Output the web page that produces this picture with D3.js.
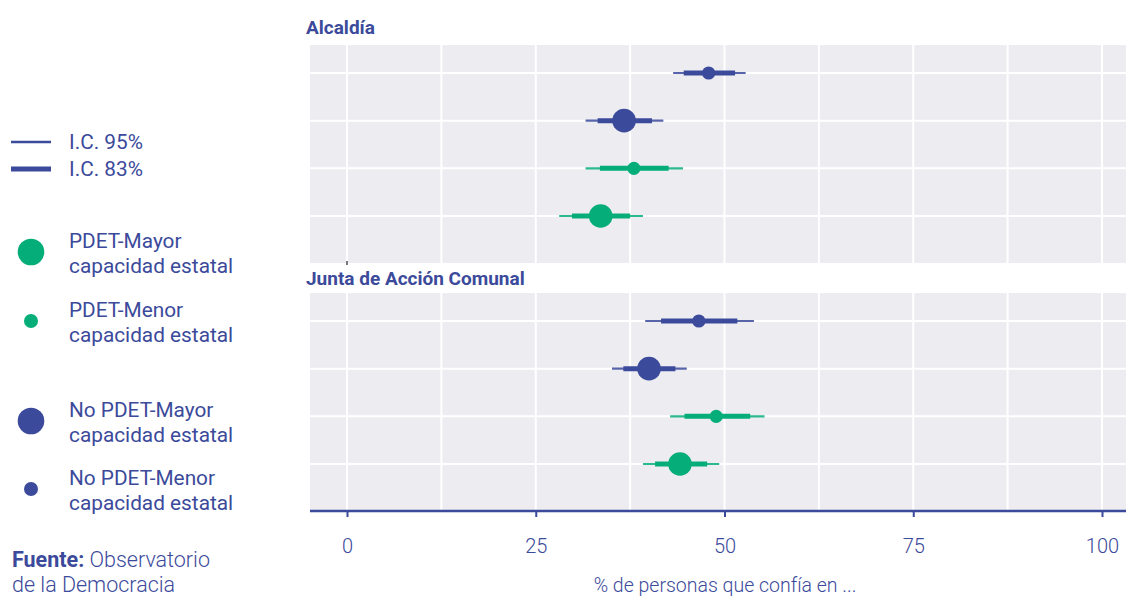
<!DOCTYPE html>
<html>
<head>
<meta charset="utf-8">
<script src="https://cdn.jsdelivr.net/npm/d3@7"></script>
<style>
  body { margin: 0; background: #fff; }
  svg { display: block; font-family: Roboto, "Noto Sans", sans-serif; }
</style>
</head>
<body>
<svg id="chart" width="1126" height="598"></svg>
<script>
// data (rows top to bottom in each panel)
var panels = ["Alcaldía", "Junta de Acción Comunal"];
var groups = ["No PDET-Menor", "No PDET-Mayor", "PDET-Menor", "PDET-Mayor"];
var est_alcaldia = [47.9, 36.7, 38.0, 33.6];
var lo95_alcaldia = [43.2, 31.6, 31.6, 28.1];
var hi95_alcaldia = [52.8, 41.9, 44.5, 39.2];
var lo83_alcaldia = [44.6, 33.2, 33.5, 29.8];
var hi83_alcaldia = [51.4, 40.4, 42.6, 37.5];
var est_jac = [46.6, 40.0, 48.9, 44.1];
var lo95_jac = [39.5, 35.1, 42.8, 39.2];
var hi95_jac = [53.9, 45.0, 55.3, 49.3];
var lo83_jac = [41.6, 36.6, 44.7, 40.8];
var hi83_jac = [51.7, 43.5, 53.4, 47.7];
var xTicks = [0, 25, 50, 75, 100];

var blue = "#3b4a9b", green = "#05ae78", panelBg = "#edecf1";

function rows(est, lo95, hi95, lo83, hi83) {
    return groups.map(function(g, i) {
        return {group: g, est: est[i], lo95: lo95[i], hi95: hi95[i], lo83: lo83[i], hi83: hi83[i]};
    });
}
var data = [rows(est_alcaldia, lo95_alcaldia, hi95_alcaldia, lo83_alcaldia, hi83_alcaldia),
            rows(est_jac, lo95_jac, hi95_jac, lo83_jac, hi83_jac)];

var svg = d3.select("#chart");
var x = d3.scaleLinear().domain([0, 100]).range([347, 1102]);
var panelLeft = 310, panelRight = 1126;
var panelTops = [45, 293], panelH = 218;
var titleY = [34, 285];
var y = d3.scalePoint().domain(groups).range([28, 171]);
var color = function(g) { return g.indexOf("No") === 0 ? blue : green; };
var radius = function(g) { return g.indexOf("Mayor") >= 0 ? 11.8 : 6.6; };

panels.forEach(function(name, p) {
    var g = svg.append("g").attr("transform", "translate(0," + panelTops[p] + ")");
    g.append("rect").attr("x", panelLeft).attr("y", 0)
        .attr("width", panelRight - panelLeft).attr("height", panelH)
        .attr("fill", panelBg);
    // minor + major grid
    var grid = d3.range(0, 101, 12.5);
    g.selectAll(".vgrid").data(grid).enter().append("line")
        .attr("x1", function(d) { return x(d); }).attr("x2", function(d) { return x(d); })
        .attr("y1", 0).attr("y2", panelH)
        .attr("stroke", "#fff").attr("stroke-width", 2);
    g.selectAll(".hgrid").data(groups).enter().append("line")
        .attr("x1", panelLeft).attr("x2", panelRight)
        .attr("y1", function(d) { return y(d); }).attr("y2", function(d) { return y(d); })
        .attr("stroke", "#fff").attr("stroke-width", 2);

    svg.append("text").attr("x", 306).attr("y", titleY[p])
        .attr("fill", blue).attr("font-weight", 700).attr("font-size", 19)
        .text(name);

    var d = data[p];
    g.selectAll(".ci95").data(d).enter().append("line")
        .attr("x1", function(r) { return x(r.lo95); }).attr("x2", function(r) { return x(r.hi95); })
        .attr("y1", function(r) { return y(r.group); }).attr("y2", function(r) { return y(r.group); })
        .attr("stroke", function(r) { return color(r.group); })
        .attr("stroke-opacity", 0.85).attr("stroke-width", 2.2);
    g.selectAll(".ci83").data(d).enter().append("line")
        .attr("x1", function(r) { return x(r.lo83); }).attr("x2", function(r) { return x(r.hi83); })
        .attr("y1", function(r) { return y(r.group); }).attr("y2", function(r) { return y(r.group); })
        .attr("stroke", function(r) { return color(r.group); })
        .attr("stroke-width", 5);
    g.selectAll(".dot").data(d).enter().append("circle")
        .attr("cx", function(r) { return x(r.est); })
        .attr("cy", function(r) { return y(r.group); })
        .attr("r", function(r) { return radius(r.group); })
        .attr("fill", function(r) { return color(r.group); });
});

// small stray tick under the first panel
svg.append("line").attr("x1", x(0)).attr("x2", x(0)).attr("y1", 261).attr("y2", 265)
    .attr("stroke", "#222").attr("stroke-width", 1.2);

// x axis
var axisY = 511;
var axis = svg.append("g").attr("transform", "translate(0," + axisY + ")")
    .call(d3.axisBottom(x).tickValues(xTicks).tickSize(6).tickPadding(22));
axis.select(".domain").remove();
axis.append("line").attr("x1", panelLeft).attr("x2", panelRight)
    .attr("stroke", blue).attr("stroke-width", 2.5);
axis.selectAll(".tick line").attr("stroke", blue).attr("stroke-width", 2);
axis.selectAll(".tick text").attr("fill", blue).attr("font-size", 20)
    .attr("font-family", "Roboto, sans-serif").attr("font-weight", 300);

svg.append("text").attr("x", 725).attr("y", 592).attr("text-anchor", "middle")
    .attr("fill", blue).attr("font-size", 19.5).attr("font-weight", 300)
    .text("% de personas que confía en ...");

// legend
var leg = svg.append("g").attr("fill", blue).attr("font-size", 20.8).attr("font-weight", 400);
var ciLegend = [{label: "I.C. 95%", w: 2.5, y: 142}, {label: "I.C. 83%", w: 5, y: 169}];
ciLegend.forEach(function(c) {
    leg.append("line").attr("x1", 11).attr("x2", 51).attr("y1", c.y).attr("y2", c.y)
        .attr("stroke", blue).attr("stroke-width", c.w);
    leg.append("text").attr("x", 69).attr("y", c.y + 7).text(c.label);
});
var ptLegend = [
    {group: "PDET-Mayor", y: 252},
    {group: "PDET-Menor", y: 321},
    {group: "No PDET-Mayor", y: 421},
    {group: "No PDET-Menor", y: 489}
];
ptLegend.forEach(function(l) {
    leg.append("circle").attr("cx", 31).attr("cy", l.y)
        .attr("r", l.group.indexOf("Mayor") >= 0 ? 13.3 : 7)
        .attr("fill", color(l.group));
    leg.append("text").attr("x", 69).attr("y", l.y - 4).text(l.group);
    leg.append("text").attr("x", 69).attr("y", l.y + 21).text("capacidad estatal");
});

var src = leg.append("text").attr("x", 12).attr("y", 567)
    .attr("font-weight", 300).attr("font-size", 21.5);
src.append("tspan").attr("font-weight", 700).text("Fuente:");
src.append("tspan").text(" Observatorio");
leg.append("text").attr("x", 12).attr("y", 592).attr("font-weight", 300)
    .attr("font-size", 21.5).text("de la Democracia");
</script>
</body>
</html>
